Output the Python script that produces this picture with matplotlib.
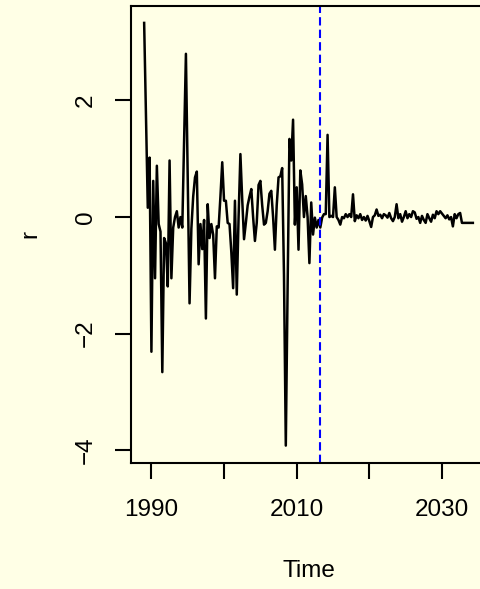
import numpy as np
import matplotlib
matplotlib.use("Agg")
import matplotlib.pyplot as plt

# quarterly series starting 1989 Q1
start_year = 1989.0
freq = 4
r_values = [
    3.33, 1.7, 0.16, 1.02, -2.31, 0.62, -1.05, 0.88, -0.12, -0.25,
    -2.66, -0.36, -0.45, -1.19, 0.97, -1.05, -0.18, 0.0, 0.10, -0.18,
    0.0, -0.18, 1.3, 2.80, 0.6, -1.48, -0.2, 0.35, 0.68, 0.78,
    -0.81, -0.12, -0.55, -0.05, -1.74, 0.22, -0.36, -0.12, -0.3, -1.05,
    -0.16, -0.18, 0.35, 0.94, 0.28, 0.28, -0.1, -0.12, -0.6, -1.22,
    0.28, -1.33, 0.0, 1.08, 0.3, -0.38, -0.1, 0.2, 0.35, 0.48,
    0.0, -0.41, -0.1, 0.55, 0.62, 0.2, -0.13, -0.1, 0.1, 0.4,
    0.45, 0.0, -0.56, 0.2, 0.68, 0.7, 0.84, -1.0, -3.92, -1.2,
    1.34, 0.97, 1.67, -0.13, 0.51, -0.56, 0.8, 0.56, 0.0, 0.36,
    0.0, -0.79, 0.25, -0.3, -0.01, -0.18, -0.05,
    # forecast part
    -0.18, -0.01, 0.05, 0.05, 1.41, 0.0, 0.02, 0.0, 0.51, 0.0,
    -0.05, -0.13, 0.0, -0.02, 0.05, 0.0, 0.05, 0.0, 0.39, -0.07,
    0.03, -0.02, 0.05, -0.05, 0.0, -0.06, 0.02, -0.07, -0.17, 0.0,
    0.03, 0.13, 0.02, 0.04, -0.02, 0.05, 0.03, -0.01, 0.07, -0.02,
    -0.07, 0.0, 0.22, -0.02, 0.05, -0.08, 0.0, 0.1, -0.02, 0.05,
    0.0, 0.1, 0.08, -0.03, 0.0, -0.1, 0.02, -0.05, -0.1, 0.05,
    -0.02, -0.08, 0.04, -0.02, 0.1, 0.05, 0.1, 0.06, 0.02, -0.02,
    0.03, -0.04, 0.0, -0.16, 0.05, -0.02, 0.05, 0.07, -0.1, -0.1,
    -0.1, -0.1, -0.1, -0.1, -0.1,
]
split_year = 2013.2
x_ticks = [1990, 2000, 2010, 2020, 2030]
x_tick_labels = ["1990", "", "2010", "", "2030"]
y_ticks = [-4, -2, 0, 2]

time = start_year + np.arange(len(r_values)) / freq

plt.rcParams["font.family"] = ["Liberation Sans", "DejaVu Sans"]
bg = "#FFFFE6"

fig = plt.figure(figsize=(4.81, 5.89), dpi=100, facecolor=bg)
ax = fig.add_axes([131 / 481, 1 - 462.5 / 589, 355 / 481, 456.5 / 589])
ax.set_facecolor(bg)

ax.plot(time, r_values, color="black", lw=1.8, solid_joinstyle="round")
ax.margins(x=0.04, y=0.04)
ax.axvline(split_year, color="blue", lw=1.5, linestyle=(0, (4, 2)))

for s in ax.spines.values():
    s.set_linewidth(1.5)
    s.set_color("black")

ax.set_xticks(x_ticks)
ax.set_xticklabels(x_tick_labels)
ax.set_yticks(y_ticks)
ax.set_yticklabels([str(v).replace("-", "\u2212") for v in y_ticks],
                   rotation=90, va="center")
ax.tick_params(axis="both", length=11.5, width=1.5, labelsize=17.5,
               color="black", labelcolor="black")
ax.tick_params(axis="x", pad=15)
ax.tick_params(axis="y", pad=13)

ax.text(0.5, (462.5 - 571) / 456.5, "Time", transform=ax.transAxes,
        ha="center", va="center", fontsize=17.5)
ax.text((30 - 131) / 355, 0.5, "r", transform=ax.transAxes,
        ha="center", va="center", rotation=90, fontsize=17.5)

fig.savefig("out.png", dpi=100, facecolor=bg)
